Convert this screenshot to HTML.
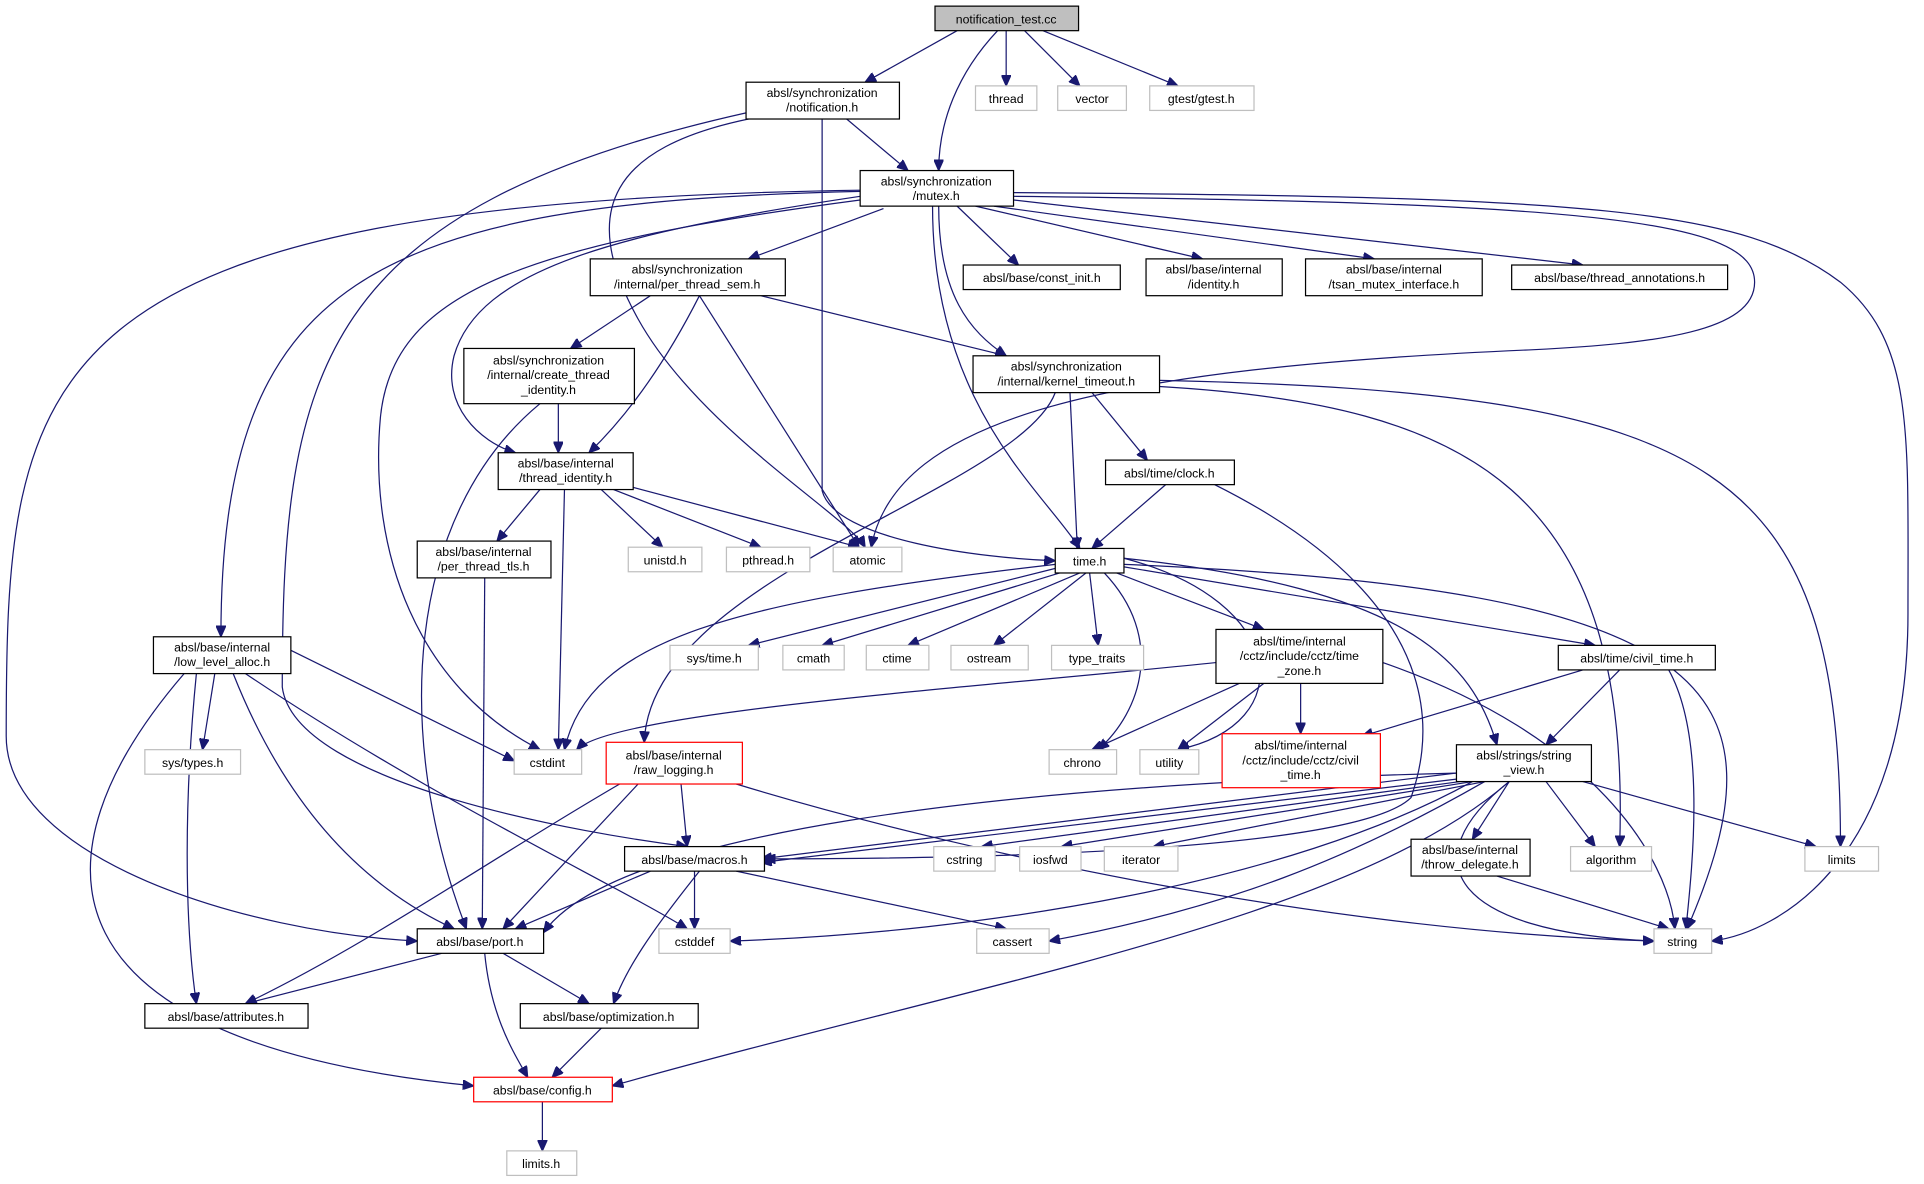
<!DOCTYPE html>
<html><head><meta charset="utf-8"><style>
html,body{margin:0;padding:0;background:#fff;}
svg{display:block}
text{font-family:"Liberation Sans",sans-serif;font-size:10px;fill:#000;text-anchor:middle}
.n{fill:#fff;stroke:#000;stroke-width:1}
.g{fill:#fff;stroke:#bfbfbf;stroke-width:1}
.r{fill:#fff;stroke:#ff0000;stroke-width:1}
.e{fill:none;stroke:#191970;stroke-width:1;marker-end:url(#a)}
</style></head><body>
<svg width="1924" height="1184" viewBox="0 0 1568 965" xmlns="http://www.w3.org/2000/svg">
<defs><marker id="a" markerUnits="userSpaceOnUse" markerWidth="10" markerHeight="8" refX="9" refY="4" orient="auto"><path d="M0,0 L9,4 L0,8 z" fill="#191970" stroke="#191970"/></marker></defs>
<g>
<path class="e" d="M780,25 L705,67"/>
<path class="e" d="M813,25 C780,60 765,100 765,139"/>
<path class="e" d="M820,25 L820,70"/>
<path class="e" d="M835,25 L880,70"/>
<path class="e" d="M850,25 L960,70"/>
<path class="e" d="M690,97 L740,139"/>
<path class="e" d="M610,97 C500,120 470,170 520,260 C570,350 690,420 705,446"/>
<path class="e" d="M608,92 C260,170 230,300 230,560 C240,640 480,680 560,690"/>
<path class="e" d="M670,97 L670,400 C680,440 800,455 860,457"/>
<path class="e" d="M720,170 L610,211"/>
<path class="e" d="M780,168 L830,216"/>
<path class="e" d="M795,168 L980,211"/>
<path class="e" d="M810,168 L1120,211"/>
<path class="e" d="M826,163 L1290,216"/>
<path class="e" d="M765,168 C765,240 790,270 820,290"/>
<path class="e" d="M760,168 C760,330 850,400 880,447"/>
<path class="e" d="M826,157 C1300,160 1420,170 1500,230 C1560,280 1555,350 1555,500 C1555,700 1450,760 1395,767"/>
<path class="e" d="M826,160 C1300,165 1430,180 1430,230 C1430,270 1350,280 1250,285 C900,300 730,340 710,446"/>
<path class="e" d="M701,160 C500,190 390,220 370,290 C360,330 390,360 420,369"/>
<path class="e" d="M701,163 C420,200 320,240 310,340 C300,450 340,560 440,611"/>
<path class="e" d="M701,156 C300,165 180,230 180,519"/>
<path class="e" d="M701,155 C20,165 5,300 5,600 C5,700 200,760 340,767"/>
<path class="e" d="M530,241 L465,284"/>
<path class="e" d="M570,241 C540,300 510,340 480,369"/>
<path class="e" d="M570,241 L700,446"/>
<path class="e" d="M620,241 L820,290"/>
<path class="e" d="M455,329 L455,369"/>
<path class="e" d="M440,329 C330,420 320,600 380,757"/>
<path class="e" d="M890,320 L935,375"/>
<path class="e" d="M872,320 L878,447"/>
<path class="e" d="M860,320 C830,400 530,470 525,605"/>
<path class="e" d="M945,310 C1400,320 1500,380 1500,690"/>
<path class="e" d="M945,315 C1200,330 1330,400 1320,690"/>
<path class="e" d="M440,399 L405,441"/>
<path class="e" d="M460,399 L455,611"/>
<path class="e" d="M490,399 L540,446"/>
<path class="e" d="M500,399 L620,446"/>
<path class="e" d="M515,397 L700,446"/>
<path class="e" d="M950,395 L890,447"/>
<path class="e" d="M990,395 C1200,500 1160,620 1150,650 C1100,700 700,700 623,700"/>
<path class="e" d="M395,471 L393,757"/>
<path class="e" d="M860,460 C600,490 480,520 460,611"/>
<path class="e" d="M865,462 L610,526"/>
<path class="e" d="M870,465 L670,526"/>
<path class="e" d="M880,467 L740,526"/>
<path class="e" d="M885,467 L810,526"/>
<path class="e" d="M888,467 L895,526"/>
<path class="e" d="M900,467 C950,520 930,580 895,611"/>
<path class="e" d="M910,467 L1030,513"/>
<path class="e" d="M916,462 L1300,526"/>
<path class="e" d="M916,455 C1150,480 1200,540 1220,607"/>
<path class="e" d="M916,455 C1050,490 1060,590 960,611"/>
<path class="e" d="M916,460 C1400,480 1460,560 1375,757"/>
<path class="e" d="M991,540 C800,560 500,580 470,611"/>
<path class="e" d="M1010,557 L890,611"/>
<path class="e" d="M1030,557 L960,611"/>
<path class="e" d="M1060,557 L1060,598"/>
<path class="e" d="M1127,540 C1300,600 1360,700 1365,757"/>
<path class="e" d="M1290,546 L1110,600"/>
<path class="e" d="M1320,546 L1260,607"/>
<path class="e" d="M1360,546 C1390,600 1380,700 1374,757"/>
<path class="e" d="M1187,630 L620,700"/>
<path class="e" d="M1187,635 L620,703"/>
<path class="e" d="M1190,637 L800,690"/>
<path class="e" d="M1200,637 L865,690"/>
<path class="e" d="M1210,637 L940,690"/>
<path class="e" d="M1230,637 L1200,684"/>
<path class="e" d="M1260,637 L1300,690"/>
<path class="e" d="M1290,637 L1480,690"/>
<path class="e" d="M1230,637 C1150,700 1180,760 1348,767"/>
<path class="e" d="M1200,637 C1050,720 800,760 595,767"/>
<path class="e" d="M1210,637 C1100,700 1000,740 855,767"/>
<path class="e" d="M1230,637 C1100,750 800,800 499,885"/>
<path class="e" d="M1190,630 C800,640 500,680 443,760"/>
<path class="e" d="M555,639 L560,690"/>
<path class="e" d="M520,639 L410,757"/>
<path class="e" d="M505,639 C400,700 300,770 200,818"/>
<path class="e" d="M600,639 C800,700 1100,760 1348,767"/>
<path class="e" d="M175,549 L165,611"/>
<path class="e" d="M237,530 L419,620"/>
<path class="e" d="M190,549 C230,650 290,720 370,757"/>
<path class="e" d="M200,549 C350,650 500,720 560,757"/>
<path class="e" d="M160,549 C150,650 150,750 160,818"/>
<path class="e" d="M150,549 C20,700 30,850 386,885"/>
<path class="e" d="M530,710 L420,757"/>
<path class="e" d="M566,710 L566,757"/>
<path class="e" d="M600,710 L820,757"/>
<path class="e" d="M570,710 C530,760 510,790 500,818"/>
<path class="e" d="M1220,714 L1360,757"/>
<path class="e" d="M360,777 L200,818"/>
<path class="e" d="M410,777 L480,818"/>
<path class="e" d="M395,777 C400,830 420,860 430,878"/>
<path class="e" d="M490,838 L450,878"/>
<path class="e" d="M442,898 L442,938"/>
</g>
<g>
<rect x="762" y="5" width="117" height="20" fill="#bfbfbf" stroke="#000"/><text x="820" y="19">notification_test.cc</text>
<rect class="n" x="608" y="67" width="125" height="30"/><text x="670" y="79">absl/synchronization</text><text x="670" y="91">/notification.h</text>
<rect class="g" x="795" y="70" width="50" height="20"/><text x="820" y="84">thread</text>
<rect class="g" x="862" y="70" width="56" height="20"/><text x="890" y="84">vector</text>
<rect class="g" x="937" y="70" width="85" height="20"/><text x="979" y="84">gtest/gtest.h</text>
<rect class="n" x="701" y="139" width="125" height="29"/><text x="763" y="151">absl/synchronization</text><text x="763" y="163">/mutex.h</text>
<rect class="n" x="481" y="211" width="159" height="30"/><text x="560" y="223">absl/synchronization</text><text x="560" y="235">/internal/per_thread_sem.h</text>
<rect class="n" x="785" y="216" width="128" height="20"/><text x="849" y="230">absl/base/const_init.h</text>
<rect class="n" x="934" y="211" width="111" height="30"/><text x="989" y="223">absl/base/internal</text><text x="989" y="235">/identity.h</text>
<rect class="n" x="1064" y="211" width="144" height="30"/><text x="1136" y="223">absl/base/internal</text><text x="1136" y="235">/tsan_mutex_interface.h</text>
<rect class="n" x="1232" y="216" width="176" height="20"/><text x="1320" y="230">absl/base/thread_annotations.h</text>
<rect class="n" x="378" y="284" width="139" height="45"/><text x="447" y="297">absl/synchronization</text><text x="447" y="309">/internal/create_thread</text><text x="447" y="321">_identity.h</text>
<rect class="n" x="793" y="290" width="152" height="30"/><text x="869" y="302">absl/synchronization</text><text x="869" y="314">/internal/kernel_timeout.h</text>
<rect class="n" x="406" y="369" width="110" height="30"/><text x="461" y="381">absl/base/internal</text><text x="461" y="393">/thread_identity.h</text>
<rect class="n" x="901" y="375" width="105" height="20"/><text x="953" y="389">absl/time/clock.h</text>
<rect class="n" x="340" y="441" width="109" height="30"/><text x="394" y="453">absl/base/internal</text><text x="394" y="465">/per_thread_tls.h</text>
<rect class="g" x="512" y="446" width="60" height="20"/><text x="542" y="460">unistd.h</text>
<rect class="g" x="592" y="446" width="68" height="20"/><text x="626" y="460">pthread.h</text>
<rect class="g" x="679" y="446" width="56" height="20"/><text x="707" y="460">atomic</text>
<rect class="n" x="860" y="447" width="56" height="20"/><text x="888" y="461">time.h</text>
<rect class="n" x="125" y="519" width="112" height="30"/><text x="181" y="531">absl/base/internal</text><text x="181" y="543">/low_level_alloc.h</text>
<rect class="g" x="546" y="526" width="72" height="20"/><text x="582" y="540">sys/time.h</text>
<rect class="g" x="638" y="526" width="50" height="20"/><text x="663" y="540">cmath</text>
<rect class="g" x="706" y="526" width="51" height="20"/><text x="731" y="540">ctime</text>
<rect class="g" x="775" y="526" width="63" height="20"/><text x="806" y="540">ostream</text>
<rect class="g" x="857" y="526" width="75" height="20"/><text x="894" y="540">type_traits</text>
<rect class="n" x="991" y="513" width="136" height="44"/><text x="1059" y="526">absl/time/internal</text><text x="1059" y="538">/cctz/include/cctz/time</text><text x="1059" y="550">_zone.h</text>
<rect class="n" x="1270" y="526" width="128" height="20"/><text x="1334" y="540">absl/time/civil_time.h</text>
<rect class="g" x="118" y="611" width="78" height="20"/><text x="157" y="625">sys/types.h</text>
<rect class="g" x="419" y="611" width="55" height="20"/><text x="446" y="625">cstdint</text>
<rect class="r" x="494" y="605" width="111" height="34"/><text x="549" y="619">absl/base/internal</text><text x="549" y="631">/raw_logging.h</text>
<rect class="g" x="855" y="611" width="55" height="20"/><text x="882" y="625">chrono</text>
<rect class="g" x="929" y="611" width="48" height="20"/><text x="953" y="625">utility</text>
<rect class="r" x="996" y="598" width="129" height="44"/><text x="1060" y="611">absl/time/internal</text><text x="1060" y="623">/cctz/include/cctz/civil</text><text x="1060" y="635">_time.h</text>
<rect class="n" x="1187" y="607" width="110" height="30"/><text x="1242" y="619">absl/strings/string</text><text x="1242" y="631">_view.h</text>
<rect class="n" x="509" y="690" width="114" height="20"/><text x="566" y="704">absl/base/macros.h</text>
<rect class="g" x="761" y="690" width="50" height="20"/><text x="786" y="704">cstring</text>
<rect class="g" x="831" y="690" width="50" height="20"/><text x="856" y="704">iosfwd</text>
<rect class="g" x="900" y="690" width="60" height="20"/><text x="930" y="704">iterator</text>
<rect class="n" x="1150" y="684" width="97" height="30"/><text x="1198" y="696">absl/base/internal</text><text x="1198" y="708">/throw_delegate.h</text>
<rect class="g" x="1280" y="690" width="66" height="20"/><text x="1313" y="704">algorithm</text>
<rect class="g" x="1471" y="690" width="60" height="20"/><text x="1501" y="704">limits</text>
<rect class="n" x="340" y="757" width="103" height="20"/><text x="391" y="771">absl/base/port.h</text>
<rect class="g" x="537" y="757" width="58" height="20"/><text x="566" y="771">cstddef</text>
<rect class="g" x="796" y="757" width="59" height="20"/><text x="825" y="771">cassert</text>
<rect class="g" x="1348" y="757" width="47" height="20"/><text x="1371" y="771">string</text>
<rect class="n" x="118" y="818" width="133" height="20"/><text x="184" y="832">absl/base/attributes.h</text>
<rect class="n" x="424" y="818" width="145" height="20"/><text x="496" y="832">absl/base/optimization.h</text>
<rect class="r" x="386" y="878" width="113" height="20"/><text x="442" y="892">absl/base/config.h</text>
<rect class="g" x="413" y="938" width="57" height="20"/><text x="441" y="952">limits.h</text>
</g>
</svg>
</body></html>
